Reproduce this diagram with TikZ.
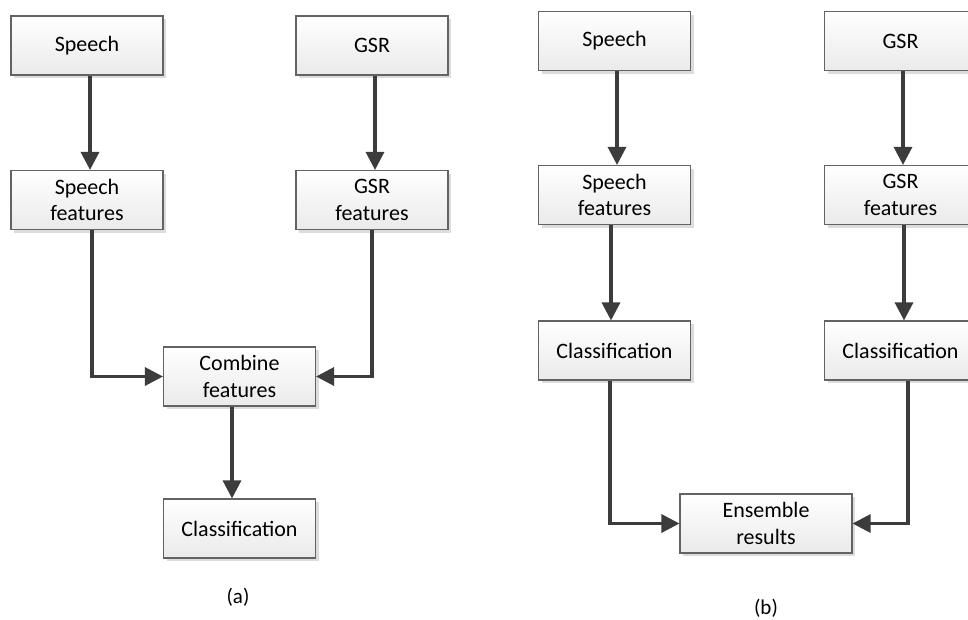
\documentclass[tikz,border=0pt]{standalone}
\usepackage{fontspec}
\setmainfont{Carlito}
\usetikzlibrary{arrows.meta,shadows}

\definecolor{boxline}{HTML}{636363}
\definecolor{boxfill}{HTML}{EAEAEA}
\definecolor{shadowgray}{HTML}{DCDCDC}
\definecolor{arrowgray}{HTML}{3C3C3C}

\begin{document}
\begin{tikzpicture}[x=1pt,y=-1pt,
  box/.style={draw=boxline, line width=1.1pt, top color=white, bottom color=boxfill,
    minimum width=152pt, minimum height=59pt, inner sep=0pt, align=center,
    font=\fontsize{22}{26.5}\selectfont,
    drop shadow={shadow xshift=3pt, shadow yshift=-3pt, fill=shadowgray, opacity=1}},
  flow/.style={draw=arrowgray, line width=3.2pt, -{Triangle[length=18pt,width=18pt]}},
  caption/.style={font=\fontsize{21}{25}\selectfont}]

\path[use as bounding box, fill=white] (0,0) rectangle (968,619);

% (a) feature-level fusion
\node[box] (sa)  at (87,45.5)    {Speech};
\node[box] (ga)  at (372,45.5)   {GSR};
\node[box] (sfa) at (87,200)     {Speech\\features};
\node[box] (gfa) at (372,200)    {GSR\\features};
\node[box] (ca)  at (239.5,376.5) {Combine\\features};
\node[box] (cla) at (239.5,528.5) {Classification};
\node[caption] (lbla) at (238,597) {(a)};

\draw[flow] ([xshift=3pt]sa.south) -- ([xshift=3pt]sfa.north);
\draw[flow] ([xshift=3pt]ga.south) -- ([xshift=3pt]gfa.north);
\draw[flow] ([xshift=5pt]sfa.south) |- (ca.west);
\draw[flow] (gfa.south) |- (ca.east);
\draw[flow] ([xshift=-7.5pt]ca.south) -- ([xshift=-7.5pt]cla.north);

% (b) decision-level fusion
\node[box] (sb)   at (614.5,41)  {Speech};
\node[box] (gb)   at (900.5,41)  {GSR};
\node[box] (sfb)  at (614.5,195) {Speech\\features};
\node[box] (gfb)  at (900.5,195) {GSR\\features};
\node[box] (clb1) at (614.5,350.5) {Classification};
\node[box] (clb2) at (900.5,350.5) {Classification};
\node[box, minimum width=172pt] (ens) at (766,523.5) {Ensemble\\results};
\node[caption] (lblb) at (766,608) {(b)};

\draw[flow] ([xshift=2.5pt]sb.south) -- ([xshift=2.5pt]sfb.north);
\draw[flow] ([xshift=2.5pt]gb.south) -- ([xshift=2.5pt]gfb.north);
\draw[flow] ([xshift=-3.5pt]sfb.south) -- ([xshift=-3.5pt]clb1.north);
\draw[flow] ([xshift=3.5pt]gfb.south) -- ([xshift=3.5pt]clb2.north);
\draw[flow] ([xshift=-4.5pt]clb1.south) |- (ens.west);
\draw[flow] ([xshift=7.5pt]clb2.south) |- (ens.east);
\end{tikzpicture}
\end{document}
